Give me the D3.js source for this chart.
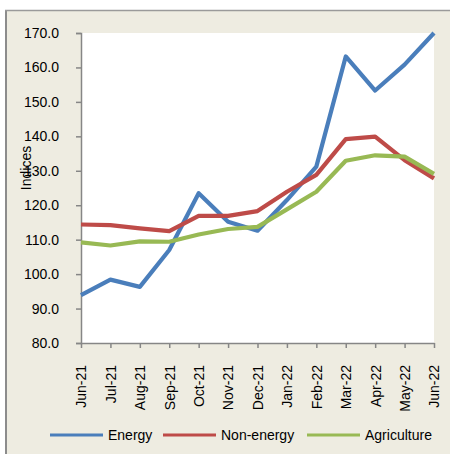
<!DOCTYPE html>
<html><head><meta charset="utf-8">
<script src="https://cdn.jsdelivr.net/npm/d3@7"></script>
<style>
html,body{margin:0;padding:0;background:#fff;}
svg{display:block;font-family:"Liberation Sans",Arial,sans-serif;}
</style></head>
<body>
<svg id="c" width="450" height="454"></svg>
<script>
const months = ["Jun-21","Jul-21","Aug-21","Sep-21","Oct-21","Nov-21","Dec-21","Jan-22","Feb-22","Mar-22","Apr-22","May-22","Jun-22"];
const energy = [93.9,98.4,96.3,107.0,123.5,115.2,112.6,121.5,131.2,163.2,153.3,160.8,170.0];
const nonEnergy = [114.4,114.2,113.3,112.5,116.9,116.9,118.3,123.9,128.8,139.2,139.9,133.1,127.8];
const agriculture = [109.2,108.3,109.5,109.4,111.5,113.1,113.7,118.8,123.9,132.9,134.5,134.1,129.1];
const yTicks = [80,90,100,110,120,130,140,150,160,170];
const seriesNames = ["Energy","Non-energy","Agriculture"];
const colors = ["#4A7EBB","#BE4B48","#98B954"];
const series = [energy, nonEnergy, agriculture];

const svg = d3.select("#c");
svg.append("rect").attr("x",7).attr("y",11).attr("width",443).attr("height",443).attr("fill","#EEECE1");
svg.append("line").attr("x1",6).attr("x2",6).attr("y1",10).attr("y2",454).attr("stroke","#8c8c8c").attr("stroke-width",2);
svg.append("line").attr("x1",5).attr("x2",450).attr("y1",10.5).attr("y2",10.5).attr("stroke","#9a9a9a").attr("stroke-width",1.5);

const x = d3.scalePoint().domain(months).range([81,434]);
const y = d3.scaleLinear().domain([80,170]).range([343,33]);

svg.append("rect").attr("x",81).attr("y",33).attr("width",353).attr("height",310).attr("fill","#fff");

const axisColor = "#868686";
const gy = svg.append("g").attr("transform","translate(81,0)")
  .call(d3.axisLeft(y).tickValues(yTicks).tickFormat(d3.format(".1f")).tickSize(5).tickPadding(17));
gy.select(".domain").attr("stroke",axisColor).attr("stroke-width",1.5);
gy.selectAll(".tick line").attr("stroke",axisColor).attr("stroke-width",1.5);
gy.selectAll(".tick text").attr("font-size",14).attr("fill","#000").attr("font-family","Liberation Sans, Arial, sans-serif");

const gx = svg.append("g").attr("transform","translate(0,343)")
  .call(d3.axisBottom(x).tickSize(5).tickSizeOuter(0));
gx.select(".domain").attr("stroke",axisColor).attr("stroke-width",1.5);
gx.selectAll(".tick line").attr("stroke",axisColor).attr("stroke-width",1.5);
gx.selectAll(".tick text").attr("font-size",14).attr("fill","#000")
  .attr("font-family","Liberation Sans, Arial, sans-serif")
  .attr("transform","rotate(-90)").attr("text-anchor","end")
  .attr("x",-22).attr("y",0).attr("dy","0.35em");

svg.append("text").attr("transform","translate(31,168) rotate(-90)")
  .attr("text-anchor","middle").attr("font-size",14).attr("fill","#000").text("Indices");

const line = d3.line().x((d,i)=>x(months[i])).y(d=>y(d));
series.forEach((s,k)=>{
  svg.append("path").datum(s).attr("d",line).attr("fill","none")
    .attr("stroke",colors[k]).attr("stroke-width",4.2).attr("stroke-linejoin","round");
});

const legX = [50,163,307];
seriesNames.forEach((n,k)=>{
  svg.append("line").attr("x1",legX[k]).attr("x2",legX[k]+53).attr("y1",435).attr("y2",435)
    .attr("stroke",colors[k]).attr("stroke-width",3);
  svg.append("text").attr("x",legX[k]+58).attr("y",435).attr("dy","0.35em")
    .attr("font-size",14).attr("fill","#000").text(n);
});
</script>
</body></html>
